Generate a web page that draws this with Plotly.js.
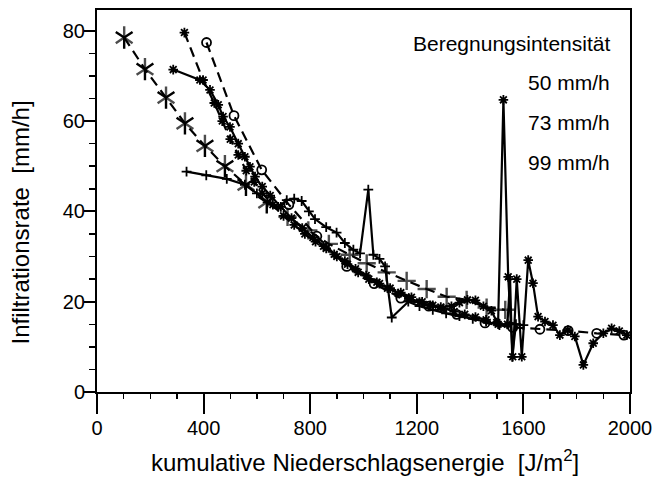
<!DOCTYPE html>
<html>
<head>
<meta charset="utf-8">
<script src="https://cdn.plot.ly/plotly-3.0.1.min.js"></script>
<style>
  html, body { margin: 0; padding: 0; background: #fff; }
  #chart { width: 653px; height: 483px; }
</style>
</head>
<body>
<div id="chart"></div>
<script>
// Infiltration rate vs. cumulative rainfall energy, several sprinkling runs

// run A: dashed, six-armed stars first, plain crosses later
const runA_x = [102, 180, 259, 330, 405, 480, 559, 637, 715, 793, 870, 948, 1012, 1087, 1162, 1237, 1312, 1387, 1462, 1532];
const runA_y = [78.5, 71.5, 65.2, 59.5, 54.5, 50.0, 45.9, 42.0, 38.8, 35.8, 32.8, 30.4, 28.5, 26.5, 24.6, 22.8, 21.1, 20.4, 18.7, 18.2];
const runA_starCount = 8;

// run B: dashed, small asterisks
const runB_x = [328, 398, 440, 470, 500, 530, 560, 590, 620, 660, 700, 740, 780, 820, 860, 900, 940, 980, 1020, 1060, 1100, 1140, 1180, 1220, 1260, 1300, 1340, 1380, 1420, 1460, 1500, 1540];
const runB_y = [79.6, 69.1, 64.0, 60.0, 56.0, 52.5, 49.0, 46.5, 44.0, 41.5, 39.0, 37.0, 35.0, 33.3, 31.8, 30.0, 28.3, 26.5, 25.0, 24.0, 23.0, 22.0, 21.0, 20.0, 19.2, 18.5, 17.8, 17.2, 16.6, 16.0, 15.4, 15.0];

// run C: dashed, open circles
const runC_x = [411, 514, 618, 720, 825, 937, 1040, 1140, 1245, 1350, 1456, 1560, 1662, 1768, 1875, 1977];
const runC_y = [77.4, 61.2, 49.2, 41.5, 34.5, 27.8, 24.0, 20.8, 19.0, 17.2, 15.3, 14.3, 13.9, 13.6, 13.0, 12.6];

// run D: solid, small asterisks
const runD_x = [286, 386, 424, 455, 473, 499, 530, 555, 574, 593, 620, 650, 690, 730, 770, 810, 850, 890, 930, 970, 1010, 1050, 1090, 1130, 1170, 1210, 1250, 1290, 1330, 1360, 1390, 1420, 1450, 1480, 1505, 1525, 1543, 1560, 1575, 1594, 1618, 1636, 1655, 1681, 1711, 1737, 1767, 1793, 1825, 1862, 1900, 1931, 1960, 1988];
const runD_y = [71.4, 69.1, 66.9, 63.6, 61.0, 58.7, 55.0, 52.1, 49.9, 47.7, 45.5, 43.5, 41.0, 38.5, 36.3, 34.2, 32.3, 30.5, 29.0, 27.3, 25.8, 24.3, 23.0, 21.8, 20.8, 19.9, 19.2, 18.8, 19.0, 19.8, 20.4, 20.3, 19.0, 18.0, 15.0, 64.7, 25.5, 7.8, 25.0, 7.8, 29.2, 24.1, 16.7, 15.6, 14.8, 12.6, 13.7, 12.3, 6.0, 10.8, 13.0, 14.1, 13.5, 12.6];

// run E: solid, small crosses
const runE_x = [336, 410, 487, 555, 600, 640, 680, 712, 740, 768, 795, 818, 860, 899, 930, 962, 987, 1018, 1037, 1060, 1081, 1106, 1168, 1210, 1260, 1310, 1360, 1410, 1460, 1510, 1540, 1550, 1558, 1572, 1600];
const runE_y = [48.8, 48.0, 47.2, 45.9, 44.0, 42.0, 41.0, 42.5, 42.8, 42.3, 40.0, 38.3, 36.5, 35.3, 33.0, 31.5, 30.7, 44.8, 30.4, 29.5, 27.8, 16.5, 20.0, 19.0, 18.2, 17.4, 16.8, 16.2, 15.6, 14.8, 15.0, 25.0, 7.8, 15.0, 14.8];

// legend text
const legendTitle = 'Beregnungsintensität';
const legendItems = ['50 mm/h', '73 mm/h', '99 mm/h'];

// axis ticks and titles
const xTicks = [0, 400, 800, 1200, 1600, 2000];
const yTicks = [0, 20, 40, 60, 80];
const xTitle = 'kumulative Niederschlagsenergie  [J/m<sup>2</sup>]';
const yTitle = 'Infiltrationsrate  [mm/h]';

const INK = '#000';
const FONT = 'Liberation Sans, Arial, Helvetica, sans-serif';
const DASH = '10px,6px';
const LW = 2.2;

const traces = [
  {
    x: runA_x, y: runA_y, mode: 'lines+markers',
    line: { color: INK, width: LW, dash: DASH },
    marker: {
      symbol: runA_x.map((_, i) => i < runA_starCount ? 'y-up-open' : 'cross-thin-open'),
      size: runA_x.map((_, i) => i < runA_starCount ? 14 : 13),
      color: INK, line: { color: INK, width: 2.4 }
    }
  },
  {
    x: runA_x.slice(0, runA_starCount), y: runA_y.slice(0, runA_starCount), mode: 'markers',
    marker: { symbol: 'y-down-open', size: 14, color: INK, line: { color: INK, width: 2.4 } }
  },
  {
    x: runB_x, y: runB_y, mode: 'lines+markers',
    line: { color: INK, width: LW, dash: DASH },
    marker: { symbol: 'asterisk-open', size: 8, color: INK, line: { color: INK, width: 1.8 } }
  },
  {
    x: runC_x, y: runC_y, mode: 'lines+markers',
    line: { color: INK, width: LW, dash: DASH },
    marker: { symbol: 'circle-open', size: 9, color: INK, line: { color: INK, width: 1.8 } }
  },
  {
    x: runD_x, y: runD_y, mode: 'lines+markers',
    line: { color: INK, width: LW },
    marker: { symbol: 'asterisk-open', size: 8, color: INK, line: { color: INK, width: 1.8 } }
  },
  {
    x: runE_x, y: runE_y, mode: 'lines+markers',
    line: { color: INK, width: LW },
    marker: { symbol: 'cross-thin-open', size: 7, color: INK, line: { color: INK, width: 1.8 } }
  }
];

const legendRight = 0.966;
const legendRows = [0.809, 0.7068, 0.5995];
const annotations = [
  { text: legendTitle, x: legendRight, y: 0.9136 },
  ...legendItems.map((t, i) => ({ text: t, x: legendRight, y: legendRows[i] }))
].map(a => Object.assign({
  xref: 'paper', yref: 'paper', xanchor: 'right', yanchor: 'middle',
  showarrow: false, font: { family: FONT, size: 21, color: INK }
}, a));

annotations.push({
  text: xTitle, xref: 'paper', yref: 'paper', x: 0.503, y: -0.18,
  xanchor: 'center', yanchor: 'middle', showarrow: false,
  font: { family: FONT, size: 24, color: INK }
});
annotations.push({
  text: yTitle, xref: 'paper', yref: 'paper', x: -0.1426, y: 0.4437,
  xanchor: 'center', yanchor: 'middle', textangle: -90, showarrow: false,
  font: { family: FONT, size: 24, color: INK }
});

const layout = {
  width: 653, height: 483,
  margin: { l: 97, r: 23, t: 10, b: 91, pad: 0 },
  paper_bgcolor: '#fff', plot_bgcolor: '#fff',
  showlegend: false,
  font: { family: FONT, color: INK },
  xaxis: {
    range: [0, 2000], tickvals: xTicks, ticktext: xTicks.map(String),
    ticks: 'outside', ticklen: 20, tickwidth: 2, tickcolor: INK,
    minor: { dtick: 100, ticks: 'outside', ticklen: 5, tickwidth: 1.5, tickcolor: INK },
    showline: true, linecolor: INK, linewidth: 2, mirror: true,
    showgrid: false, zeroline: false,
    tickfont: { family: FONT, size: 20, color: INK },
    ticklabelstandoff: -3
  },
  yaxis: {
    range: [0, 84.6], tickvals: yTicks, ticktext: yTicks.map(String),
    ticks: 'outside', ticklen: 11, tickwidth: 2, tickcolor: INK,
    minor: { dtick: 5, ticks: 'outside', ticklen: 6, tickwidth: 1.5, tickcolor: INK },
    showline: true, linecolor: INK, linewidth: 2, mirror: true,
    showgrid: false, zeroline: false,
    tickfont: { family: FONT, size: 20, color: INK },
    ticklabelstandoff: -5
  },
  annotations: annotations
};

Plotly.newPlot('chart', traces, layout, { staticPlot: true, displayModeBar: false });
</script>
</body>
</html>
